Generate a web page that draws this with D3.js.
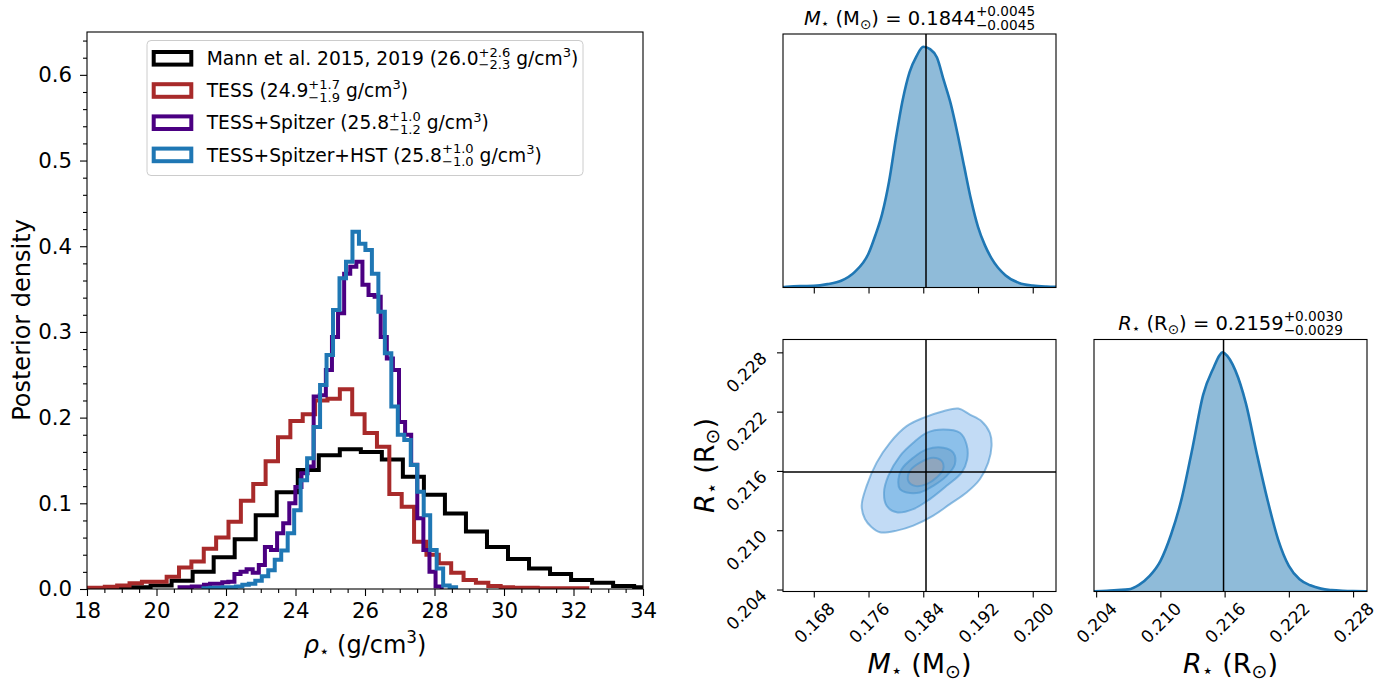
<!DOCTYPE html>
<html><head><meta charset="utf-8">
<script src="https://cdn.jsdelivr.net/npm/d3@7"></script>
<style>
body{margin:0;background:#fff}
svg{display:block}
text{font-family:"DejaVu Sans",sans-serif;white-space:pre}
</style>
</head><body>
<svg id="c" width="1395" height="684"></svg>
<script>
// ---------------- DATA ----------------
const rhoTicks = [18,20,22,24,26,28,30,32,34];
const densityTicks = [0,0.1,0.2,0.3,0.4,0.5,0.6];
const seriesNames = ["Mann et al. 2015, 2019","TESS","TESS+Spitzer","TESS+Spitzer+HST"];
const seriesMedian = ["26.0","24.9","25.8","25.8"];
const seriesPlus = ["2.6","1.7","1.0","1.0"];
const seriesMinus = ["2.3","1.9","1.2","1.0"];
const seriesColors = ["#000000","#a82a2a","#4b0082","#1f77b4"];
const binStart = [18.62, 17.80, 20.664, 21.352];
const binWidth = [0.605, 0.356, 0.1754, 0.1864];
const mannDensity = [0.001,0.002,0.004,0.0097,0.020,0.037,0.058,0.086,0.113,0.139,0.156,0.163,0.160,0.151,0.131,0.110,0.088,0.067,0.049,0.035,0.024,0.0175,0.0105,0.0074,0.0035,0.002];
const tessDensity = [0.0015,0.0015,0.0027,0.004,0.0066,0.0085,0.0085,0.0144,0.025,0.032,0.047,0.060,0.0785,0.103,0.1225,0.149,0.177,0.196,0.204,0.220,0.222,0.233,0.204,0.182,0.166,0.111,0.096,0.055,0.040,0.030,0.019,0.0105,0.0074,0.0035,0.002,0.0015,0.0015,0.001,0.001,0.001,0.001];
const spitzerDensity = [0.002,0.002,0.003,0.003,0.005,0.006,0.006,0.008,0.0085,0.0175,0.020,0.023,0.019,0.028,0.049,0.0455,0.065,0.0767,0.100,0.119,0.135,0.143,0.2245,0.226,0.2555,0.294,0.3217,0.368,0.376,0.382,0.355,0.343,0.341,0.294,0.269,0.2555,0.195,0.180,0.145,0.0825,0.0455,0.020,0.003];
const hstDensity = [0.001,0.0015,0.0015,0.002,0.002,0.003,0.005,0.006,0.0097,0.015,0.022,0.034,0.045,0.065,0.092,0.127,0.1525,0.189,0.238,0.273,0.3255,0.3625,0.382,0.417,0.403,0.3955,0.368,0.3235,0.275,0.213,0.180,0.174,0.1447,0.1135,0.086,0.0455,0.024,0.004,0.002];

const massTicks = [0.168,0.176,0.184,0.192,0.200];
const radiusTicks = [0.204,0.210,0.216,0.222,0.228];
const massMedian = 0.1844, massPlus = "0.0045", massMinus = "0.0045";
const radiusMedian = 0.2159, radiusPlus = "0.0030", radiusMinus = "0.0029";
const massGrid = [0.1635,0.164,0.166,0.168,0.170,0.172,0.174,0.176,0.177,0.178,0.179,0.180,0.181,0.182,0.183,0.184,0.185,0.186,0.187,0.188,0.189,0.190,0.191,0.192,0.193,0.194,0.196,0.198,0.200,0.202,0.2034];
const massDensity = [0.002,0.003,0.006,0.007,0.014,0.028,0.065,0.141,0.217,0.307,0.44,0.62,0.78,0.895,0.96,1.0,0.99,0.955,0.86,0.765,0.64,0.50,0.363,0.252,0.176,0.12,0.051,0.019,0.008,0.004,0.003];
const radiusGrid = [0.2038,0.205,0.206,0.207,0.208,0.209,0.210,0.211,0.212,0.213,0.214,0.215,0.2155,0.2158,0.216,0.217,0.218,0.219,0.220,0.221,0.222,0.223,0.224,0.225,0.226,0.227,0.228,0.2293];
const radiusDensity = [0.001,0.003,0.006,0.009,0.028,0.065,0.127,0.238,0.39,0.60,0.823,0.938,0.985,1.0,0.995,0.924,0.784,0.578,0.384,0.217,0.107,0.051,0.026,0.012,0.006,0.003,0.0015,0.001];
// contour levels (mass, radius), outer to inner
const contourOuter = [[0.1750,0.2125],[0.17573,0.21449],[0.17719,0.21684],[0.17913,0.21885],[0.18157,0.22053],[0.1840,0.22137],[0.18692,0.22204],[0.18911,0.22231],[0.19081,0.22170],[0.19252,0.22103],[0.19373,0.21986],[0.19398,0.21852],[0.19349,0.21684],[0.19227,0.21516],[0.19033,0.21382],[0.18789,0.21264],[0.18546,0.21147],[0.18254,0.21046],[0.18011,0.20996],[0.17767,0.20979],[0.17646,0.21030],[0.17548,0.21113]];
const contourSecond = [[0.17826,0.21382],[0.17889,0.21550],[0.18059,0.21751],[0.18254,0.21885],[0.18449,0.21986],[0.18692,0.22019],[0.18935,0.21986],[0.19033,0.21868],[0.19042,0.21717],[0.18960,0.21583],[0.18741,0.21449],[0.18497,0.21315],[0.18254,0.21214],[0.18011,0.21181],[0.17865,0.21248]];
const contourThird = [[0.18035,0.21483],[0.18084,0.21617],[0.18254,0.21734],[0.18449,0.21818],[0.18692,0.21835],[0.18838,0.21785],[0.18862,0.21667],[0.18741,0.21550],[0.18546,0.21449],[0.18351,0.21382],[0.18157,0.21382],[0.18059,0.21415]];
const contourInner = [[0.18181,0.21499],[0.18205,0.216],[0.18351,0.21684],[0.18546,0.21734],[0.18668,0.21701],[0.18692,0.21617],[0.18595,0.21533],[0.18449,0.21466],[0.18278,0.21449]];
const contourFills = ["#c2dbf5","#8cc0ea","#7aaed8","#8fa6be"];

// ---------------- DRAWING ----------------
const FONT = '"DejaVu Sans", sans-serif';
const FS = 18.67, FS_TICK = 21.3, FS_LAB = 24, FS_C = 17, FS_TITLE = 19.5, FS_CLAB = 27;
const svg = d3.select("#c");
svg.append("rect").attr("width",1395).attr("height",684).attr("fill","#fff");

function rich(parent, segs, fs) {
  const g = parent.append("g");
  let x = 0;
  segs.forEach(s => {
    if (s.sup !== undefined) {
      const a = g.append("text").attr("x", x).attr("y", -0.45*fs).attr("font-size", 0.7*fs).text(s.sup);
      const b = g.append("text").attr("x", x).attr("y", 0.24*fs).attr("font-size", 0.7*fs).text(s.sub);
      x += Math.max(a.node().getComputedTextLength(), b.node().getComputedTextLength());
    } else {
      const sc = s.scale || 1;
      const t = g.append("text").attr("x", x).attr("y", (s.shift||0)*fs).attr("font-size", fs*sc).text(s.t);
      if (s.italic) t.attr("font-style","italic");
      x += t.node().getComputedTextLength();
    }
  });
  g.selectAll("text").attr("fill","#000");
  return {g, width: x};
}
function richPlaced(x, y, segs, fs, anchor, rot) {
  const outer = svg.append("g").attr("transform", `translate(${x},${y}) rotate(${rot||0})`);
  const r = rich(outer, segs, fs);
  const dx = anchor === "middle" ? -r.width/2 : (anchor === "end" ? -r.width : 0);
  r.g.attr("transform", `translate(${dx},0)`);
  return r;
}

// ===== Left panel =====
const L = {x0:87, x1:643, y0:32, y1:589};
const xRho = d3.scaleLinear().domain([18,34]).range([L.x0, L.x1]);
const yDen = d3.scaleLinear().domain([0,0.65]).range([L.y1, L.y0]);
svg.append("clipPath").attr("id","clipL").append("rect")
  .attr("x",L.x0).attr("y",L.y0).attr("width",L.x1-L.x0).attr("height",L.y1-L.y0);

const allDensity = [mannDensity, tessDensity, spitzerDensity, hstDensity];
const stepLine = d3.line().x(d => xRho(d[0])).y(d => yDen(d[1]));
allDensity.forEach((vals, i) => {
  const pts = [];
  const s = binStart[i], w = binWidth[i];
  pts.push([s, 0]);
  vals.forEach((v, k) => { pts.push([s + k*w, v]); pts.push([s + (k+1)*w, v]); });
  pts.push([s + vals.length*w, 0]);
  svg.append("path").attr("d", stepLine(pts)).attr("fill","none")
    .attr("stroke", seriesColors[i]).attr("stroke-width", 4)
    .attr("stroke-linejoin","miter").attr("clip-path","url(#clipL)");
});

// axes
function styleAxis(a, fs) {
  a.attr("font-family", FONT).attr("color","#000");
  a.select(".domain").remove();
  a.selectAll("line").attr("stroke","#000").attr("stroke-width",1.1);
  a.selectAll("text").attr("font-size", fs).attr("fill","#000");
}
const rhoMinor = d3.range(18, 34.001, 0.5).filter(v => Math.abs(v/2 - Math.round(v/2)) > 1e-6);
const denMinor = d3.range(0, 0.6401, 0.02).filter(v => Math.abs(v*10 - Math.round(v*10)) > 1e-6);
let a = svg.append("g").attr("transform",`translate(0,${L.y1})`)
  .call(d3.axisBottom(xRho).tickValues(rhoTicks).tickSize(7).tickPadding(7).tickFormat(d3.format("d")));
styleAxis(a, FS_TICK);
a = svg.append("g").attr("transform",`translate(0,${L.y1})`)
  .call(d3.axisBottom(xRho).tickValues(rhoMinor).tickSize(4).tickFormat(""));
styleAxis(a, FS_TICK);
a = svg.append("g").attr("transform",`translate(${L.x0},0)`)
  .call(d3.axisLeft(yDen).tickValues(densityTicks).tickSize(7).tickPadding(8).tickFormat(d3.format(".1f")));
styleAxis(a, FS_TICK);
a = svg.append("g").attr("transform",`translate(${L.x0},0)`)
  .call(d3.axisLeft(yDen).tickValues(denMinor).tickSize(4).tickFormat(""));
styleAxis(a, FS_TICK);
svg.append("rect").attr("x",L.x0).attr("y",L.y0).attr("width",L.x1-L.x0).attr("height",L.y1-L.y0)
  .attr("fill","none").attr("stroke","#000").attr("stroke-width",1.1);

// labels
richPlaced(30, 320, [{t:"Posterior density"}], FS_LAB, "middle", -90);
richPlaced((L.x0+L.x1)/2, 653, [{t:"\u03C1",italic:true},{t:"\u22C6",scale:0.7,shift:0.15},{t:" (g/cm"},{t:"3",scale:0.7,shift:-0.42},{t:")"}], FS_LAB, "middle", 0);

// legend
svg.append("rect").attr("x",147).attr("y",40.5).attr("width",436).attr("height",135).attr("rx",4)
  .attr("fill","#fff").attr("fill-opacity",0.8).attr("stroke","#cccccc").attr("stroke-width",1);
seriesNames.forEach((name, i) => {
  const cy = 58.3 + i*32.2;
  svg.append("rect").attr("x",153.7).attr("y",cy-6.3).attr("width",37.6).attr("height",12.6)
    .attr("fill","#fff").attr("stroke",seriesColors[i]).attr("stroke-width",4);
  richPlaced(206.7, cy+6.7, [{t:name+" ("+seriesMedian[i]},{sup:"+"+seriesPlus[i],sub:"\u2212"+seriesMinus[i]},{t:" g/cm"},{t:"3",scale:0.7,shift:-0.42},{t:")"}], FS, "start", 0);
});

// ===== Corner plot =====
const C = {cx0:783, cx1:1056, dx0:1094, dx1:1367, ry0:34, ry1:287.5, sy0:339.5, sy1:591.5};
const xM = d3.scaleLinear().domain([0.1635,0.2034]).range([C.cx0, C.cx1]);
const yR = d3.scaleLinear().domain([0.2038,0.2293]).range([C.sy1, C.sy0]);
const xR = d3.scaleLinear().domain([0.2038,0.2293]).range([C.dx0, C.dx1]);
const yHtop = d3.scaleLinear().domain([0,1.053]).range([C.ry1, C.ry0]);
const yHright = d3.scaleLinear().domain([0,1.053]).range([C.sy1, C.sy0]);

function clipRect(id, x0, y0, x1, y1) {
  svg.append("clipPath").attr("id",id).append("rect").attr("x",x0).attr("y",y0).attr("width",x1-x0).attr("height",y1-y0);
}
clipRect("clipA", C.cx0, C.ry0, C.cx1, C.ry1);
clipRect("clipB", C.cx0, C.sy0, C.cx1, C.sy1);
clipRect("clipD", C.dx0, C.sy0, C.dx1, C.sy1);

function histPanel(grid, dens, xs, ys, clip) {
  const pts = grid.map((g,i)=>[g,dens[i]]);
  const area = d3.area().curve(d3.curveMonotoneX).x(d=>xs(d[0])).y0(ys(0)).y1(d=>ys(d[1]));
  const line = d3.line().curve(d3.curveMonotoneX).x(d=>xs(d[0])).y(d=>ys(d[1]));
  svg.append("path").attr("d", area(pts)).attr("fill","#1f77b4").attr("fill-opacity",0.5).attr("clip-path",`url(#${clip})`);
  svg.append("path").attr("d", line(pts)).attr("fill","none").attr("stroke","#1f77b4").attr("stroke-width",2.6).attr("clip-path",`url(#${clip})`);
}
histPanel(massGrid, massDensity, xM, yHtop, "clipA");
histPanel(radiusGrid, radiusDensity, xR, yHright, "clipD");

// contours
const cline = d3.line().curve(d3.curveCatmullRomClosed.alpha(0.5)).x(d=>xM(d[0])).y(d=>yR(d[1]));
[contourOuter, contourSecond, contourThird, contourInner].forEach((c, i) => {
  svg.append("path").attr("d", cline(c)).attr("fill", contourFills[i])
    .attr("stroke","#4a94cf").attr("stroke-opacity",0.6).attr("stroke-width",2).attr("clip-path","url(#clipB)");
});

// truth lines
svg.append("line").attr("x1",xM(massMedian)).attr("x2",xM(massMedian)).attr("y1",C.ry0).attr("y2",C.ry1).attr("stroke","#000").attr("stroke-width",1.5);
svg.append("line").attr("x1",xM(massMedian)).attr("x2",xM(massMedian)).attr("y1",C.sy0).attr("y2",C.sy1).attr("stroke","#000").attr("stroke-width",1.5);
svg.append("line").attr("x1",C.cx0).attr("x2",C.cx1).attr("y1",yR(radiusMedian)).attr("y2",yR(radiusMedian)).attr("stroke","#000").attr("stroke-width",1.5);
svg.append("line").attr("x1",xR(radiusMedian)).attr("x2",xR(radiusMedian)).attr("y1",C.sy0).attr("y2",C.sy1).attr("stroke","#000").attr("stroke-width",1.5);

// frames
[[C.cx0,C.ry0,C.cx1,C.ry1],[C.cx0,C.sy0,C.cx1,C.sy1],[C.dx0,C.sy0,C.dx1,C.sy1]].forEach(r => {
  svg.append("rect").attr("x",r[0]).attr("y",r[1]).attr("width",r[2]-r[0]).attr("height",r[3]-r[1])
    .attr("fill","none").attr("stroke","#000").attr("stroke-width",1.1);
});

// corner axes
function cornerX(scale, y0, ticks, labels) {
  const ax = svg.append("g").attr("transform",`translate(0,${y0})`)
    .call(d3.axisBottom(scale).tickValues(ticks).tickSize(6).tickFormat(labels ? d3.format(".3f") : ""));
  styleAxis(ax, FS_C);
  if (labels) {
    ax.selectAll("text").attr("y",null).attr("dy",null).each(function(){
      const w = this.getComputedTextLength(), h = 0.73*FS_C, ext = (w+h)/Math.SQRT2;
      d3.select(this).attr("text-anchor","middle").attr("dy",(0.365*FS_C)+"px")
        .attr("transform",`translate(0,${6+3.5+ext/2}) rotate(-45)`);
    });
  }
}
cornerX(xM, C.ry1, massTicks, false);
cornerX(xM, C.sy1, massTicks, true);
cornerX(xR, C.sy1, radiusTicks, true);
const ayC = svg.append("g").attr("transform",`translate(${C.cx0},0)`)
  .call(d3.axisLeft(yR).tickValues(radiusTicks).tickSize(6).tickFormat(d3.format(".3f")));
styleAxis(ayC, FS_C);
ayC.selectAll("text").attr("x",null).attr("dy",null).attr("text-anchor","end")
  .attr("transform","translate(-15,6.5) rotate(-45)");

// titles
richPlaced((C.cx0+C.cx1)/2, 25, [{t:"M",italic:true},{t:"\u22C6",scale:0.7,shift:0.15},{t:" (M"},{t:"\u2299",scale:0.7,shift:0.2},{t:") = "+massMedian.toFixed(4)},{sup:"+"+massPlus,sub:"\u2212"+massMinus}], FS_TITLE, "middle", 0);
richPlaced((C.dx0+C.dx1)/2, 330, [{t:"R",italic:true},{t:"\u22C6",scale:0.7,shift:0.15},{t:" (R"},{t:"\u2299",scale:0.7,shift:0.2},{t:") = "+radiusMedian.toFixed(4)},{sup:"+"+radiusPlus,sub:"\u2212"+radiusMinus}], FS_TITLE, "middle", 0);

// axis labels
richPlaced((C.cx0+C.cx1)/2, 673, [{t:"M",italic:true},{t:"\u22C6",scale:0.7,shift:0.15},{t:" (M"},{t:"\u2299",scale:0.7,shift:0.2},{t:")"}], FS_CLAB, "middle", 0);
richPlaced((C.dx0+C.dx1)/2, 673, [{t:"R",italic:true},{t:"\u22C6",scale:0.7,shift:0.15},{t:" (R"},{t:"\u2299",scale:0.7,shift:0.2},{t:")"}], FS_CLAB, "middle", 0);
richPlaced(713.5, (C.sy0+C.sy1)/2, [{t:"R",italic:true},{t:"\u22C6",scale:0.7,shift:0.15},{t:" (R"},{t:"\u2299",scale:0.7,shift:0.2},{t:")"}], FS_CLAB, "middle", -90);
</script>
</body></html>
